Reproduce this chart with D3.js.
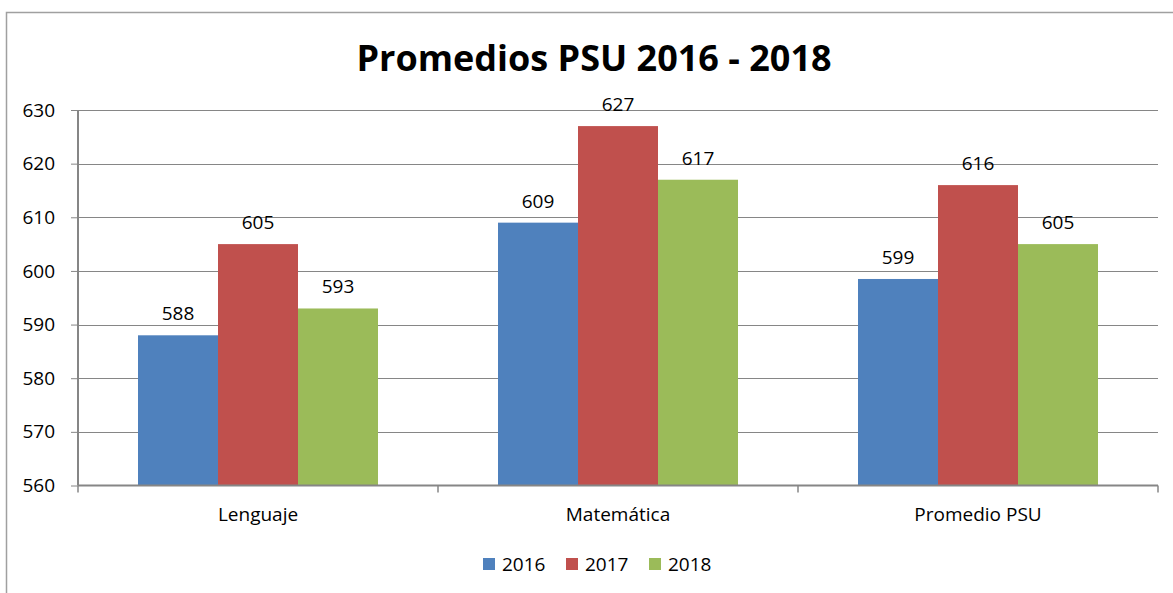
<!DOCTYPE html>
<html>
<head>
<meta charset="utf-8">
<script src="https://d3js.org/d3.v7.min.js"></script>
<style>
  body { margin: 0; background: #fff; }
  text { font-family: "Open Sans", sans-serif; fill: #000; }
</style>
</head>
<body>
<div id="chart"></div>
<script>
    const categories = ['Lenguaje', 'Matemática', 'Promedio PSU'];
    const years = ['2016', '2017', '2018'];
    const values2016 = [588, 609, 598.5];
    const values2017 = [605, 627, 616];
    const values2018 = [593, 617, 605];
    const yTicks = [560, 570, 580, 590, 600, 610, 620, 630];
    const colors = ['#4f81bd', '#c0504d', '#9bbb59'];

    const width = 1173, height = 593;
    const plot = {left: 78, right: 1158, top: 110, bottom: 485.5};

    const svg = d3.select('#chart').append('svg')
        .attr('width', width).attr('height', height);

    // outer chart border
    svg.append('rect')
        .attr('x', 6.5).attr('y', 12.5)
        .attr('width', 1200).attr('height', 700)
        .attr('fill', 'none').attr('stroke', '#a0a0a0').attr('stroke-width', 1.5);

    svg.append('text')
        .attr('x', 594).attr('y', 71)
        .attr('text-anchor', 'middle')
        .style('font-size', '36px').style('font-weight', 'bold')
        .text('Promedios PSU 2016 - 2018');

    const y = d3.scaleLinear().domain([560, 630]).range([plot.bottom, plot.top]);
    const x0 = d3.scaleBand().domain(categories).range([plot.left, plot.right]).paddingInner(0).paddingOuter(0);
    const x1 = d3.scaleBand().domain(years).range([0, x0.bandwidth()]).paddingInner(0).paddingOuter(0.75);

    // gridlines
    svg.append('g')
        .selectAll('line').data(yTicks.slice(1)).join('line')
        .attr('x1', plot.left).attr('x2', plot.right)
        .attr('y1', d => Math.round(y(d)) + 0.5).attr('y2', d => Math.round(y(d)) + 0.5)
        .attr('stroke', '#868686').attr('stroke-width', 1);

    const series = years.map((yr, i) => ({
        year: yr,
        color: colors[i],
        values: [values2016, values2017, values2018][i]
    }));

    const groups = svg.append('g').selectAll('g').data(categories).join('g')
        .attr('transform', c => `translate(${x0(c)},0)`);

    groups.selectAll('rect')
        .data((c, ci) => series.map(s => ({year: s.year, color: s.color, v: s.values[ci]})))
        .join('rect')
        .attr('x', d => x1(d.year))
        .attr('width', x1.bandwidth())
        .attr('y', d => y(d.v))
        .attr('height', d => y(560) - y(d.v))
        .attr('fill', d => d.color);

    groups.selectAll('text.lbl')
        .data((c, ci) => series.map(s => ({year: s.year, v: s.values[ci]})))
        .join('text')
        .attr('class', 'lbl')
        .attr('x', d => x1(d.year) + x1.bandwidth() / 2)
        .attr('y', d => y(d.v) - 15)
        .attr('text-anchor', 'middle')
        .style('font-size', '19px')
        .text(d => Math.round(d.v));

    // y axis
    const yAxis = svg.append('g')
        .attr('transform', `translate(${plot.left},0)`)
        .call(d3.axisLeft(y).tickValues(yTicks).tickSize(7).tickPadding(16));
    yAxis.select('.domain').attr('stroke', '#868686').attr('stroke-width', 2).attr('d', `M0,${plot.top}V${plot.bottom}`);
    yAxis.selectAll('.tick line').attr('stroke', '#868686').attr('stroke-width', 1);
    yAxis.selectAll('.tick text').style('font-size', '19px').attr('fill', '#000')
        .style('font-family', '"Open Sans", sans-serif');

    // x axis
    const xAxis = svg.append('g')
        .attr('transform', `translate(0,${plot.bottom})`)
        .call(d3.axisBottom(x0).tickSize(0).tickPadding(22));
    xAxis.select('.domain').attr('stroke', '#868686').attr('stroke-width', 2)
        .attr('d', `M${plot.left},0H${plot.right}`);
    xAxis.selectAll('.tick text').style('font-size', '19px').attr('fill', '#000')
        .style('font-family', '"Open Sans", sans-serif');
    const bounds = [plot.left, ...categories.map(c => x0(c) + x0.bandwidth())];
    xAxis.selectAll('line.sep').data(bounds).join('line')
        .attr('class', 'sep')
        .attr('x1', d => d).attr('x2', d => d)
        .attr('y1', 0).attr('y2', 7)
        .attr('stroke', '#868686').attr('stroke-width', 1.5);

    // legend
    const legend = svg.append('g').attr('transform', 'translate(483,558)');
    const items = legend.selectAll('g').data(series).join('g')
        .attr('transform', (d, i) => `translate(${i * 83},0)`);
    items.append('rect').attr('width', 12).attr('height', 12).attr('fill', d => d.color);
    items.append('text').attr('x', 19).attr('y', 13)
        .style('font-size', '19px').text(d => d.year);
</script>
</body>
</html>
